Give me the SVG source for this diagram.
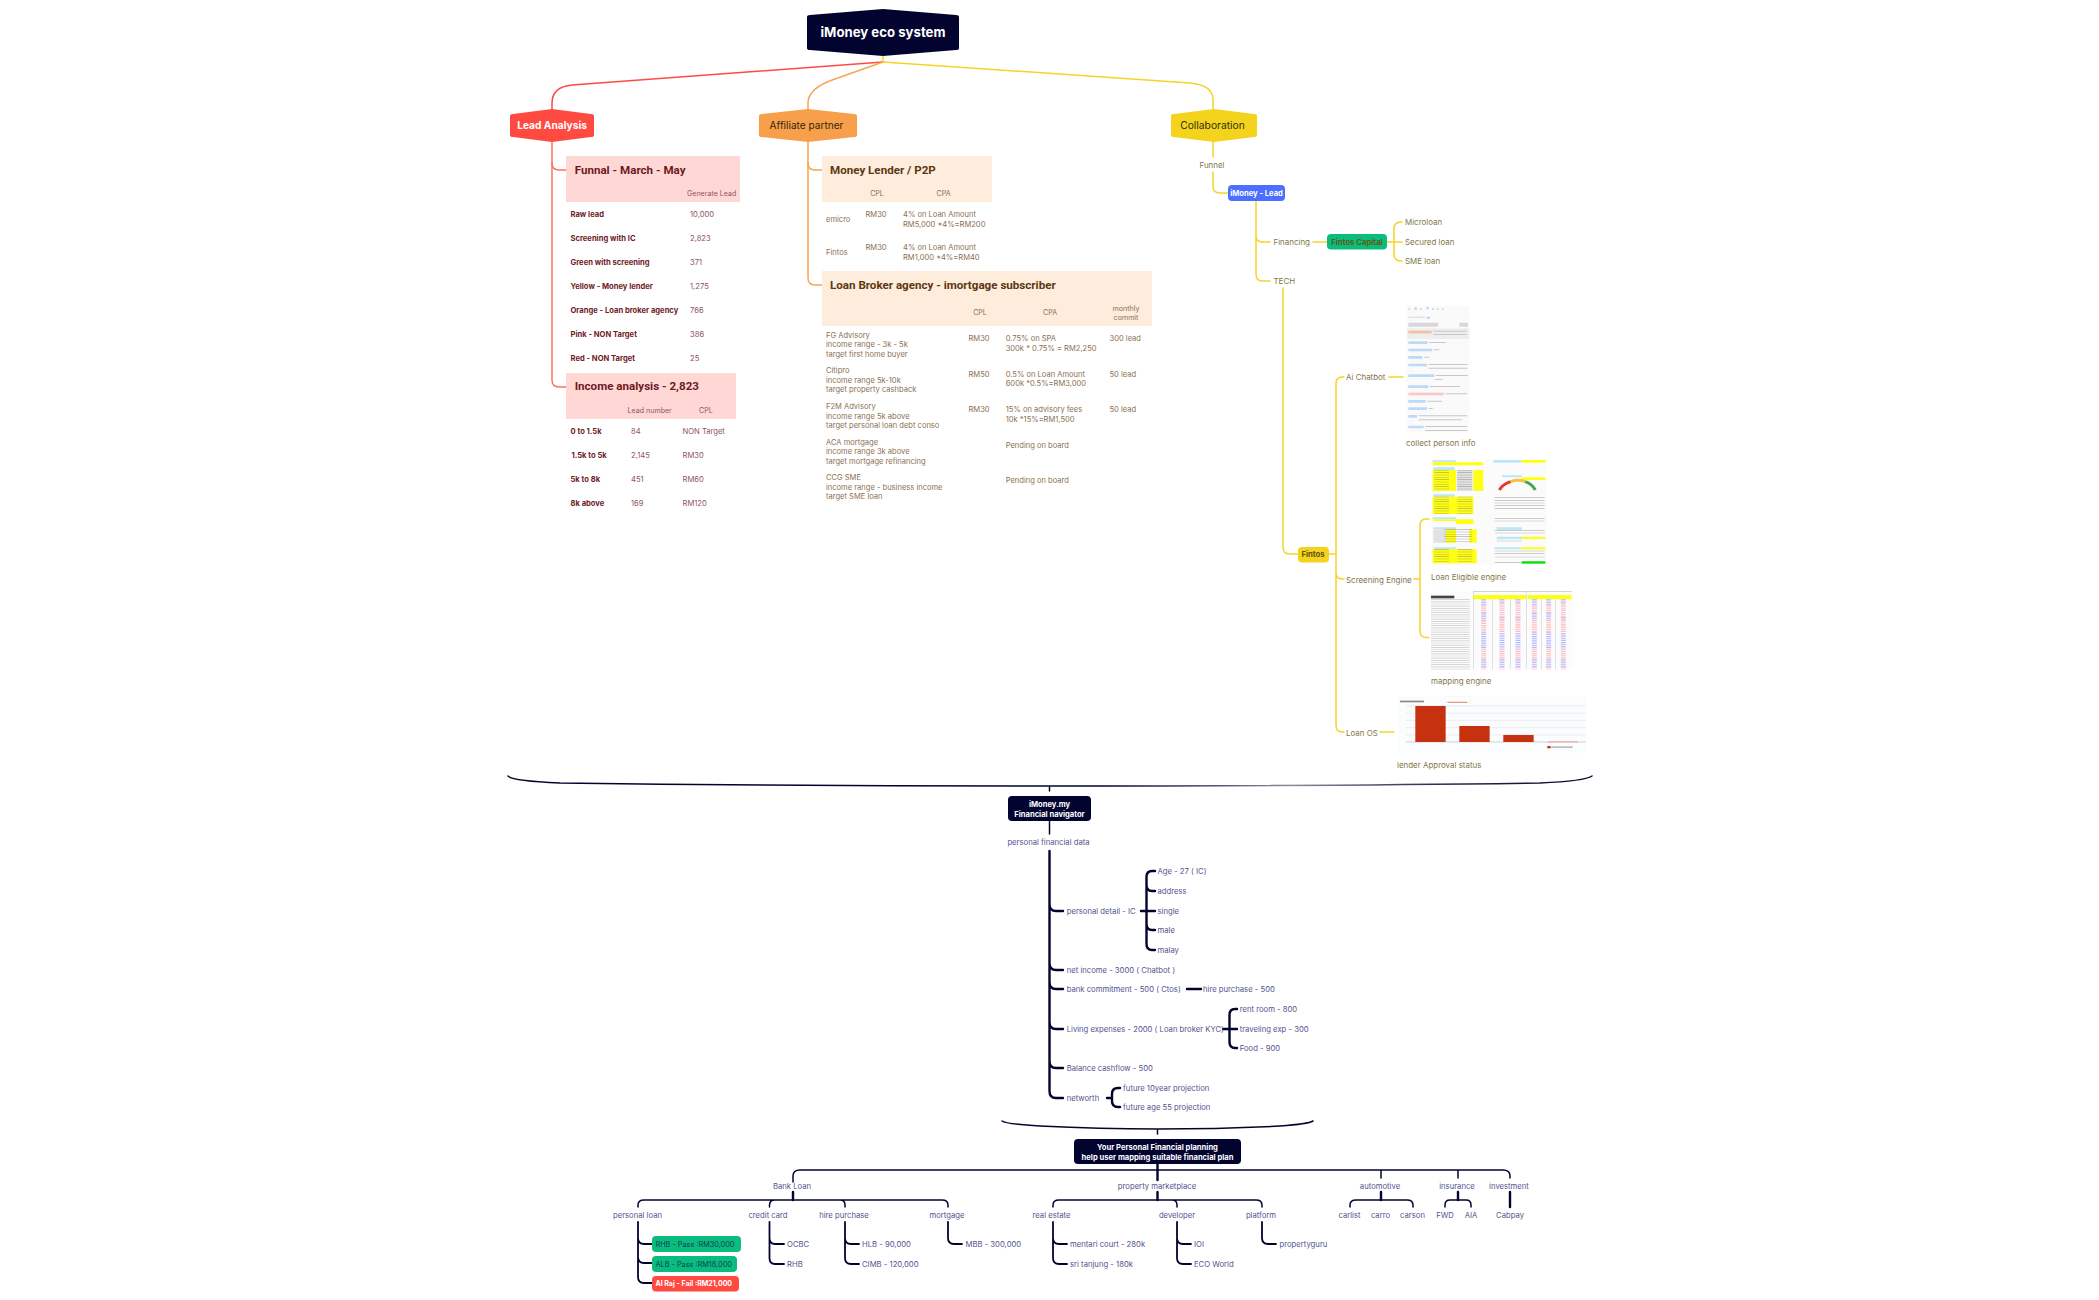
<svg xmlns="http://www.w3.org/2000/svg" width="2099" height="1300" viewBox="0 0 2099 1300">
<defs>
<linearGradient id="brace" x1="0" x2="1" y1="0" y2="0"><stop offset="0" stop-color="#02042f"/><stop offset=".55" stop-color="#02042f"/><stop offset=".72" stop-color="#8a8a98"/><stop offset=".85" stop-color="#30324f"/><stop offset="1" stop-color="#02042f"/></linearGradient>
</defs>
<style>
text{font-family:"Inter","Liberation Sans",sans-serif;font-size:7.7px;dominant-baseline:central}
.m{text-anchor:middle}
.hd{font-family:"Roboto","Liberation Sans",sans-serif;font-weight:700;font-size:11.6px;transform:translateY(-.5px)}
.rb{fill:#6e1a1f;font-weight:700;font-size:7.6px}
.rv{fill:#8f5560;font-size:7.6px}
.ob{fill:#8c7053;font-size:7.55px}
.rt{fill:#6e1a1f}
.ot{fill:#5c3712}
.y{fill:#7f7748;font-size:7.95px}
.n{fill:#53538f}
.wb{fill:#fff;font-weight:700;font-size:7.6px}
.ln{fill:none;stroke-linecap:round;stroke-linejoin:round}
.red{stroke:#ff4a42;stroke-width:1.5}
.red2{stroke:#ff6f68;stroke-width:1.5}
.or{stroke:#f9a54f;stroke-width:1.5}
.ye{stroke:#f5d426;stroke-width:1.5}
.na{stroke:#02042f;stroke-width:1.5}
.na2{stroke:#02042f;stroke-width:2.4}
</style>

<g id="connectors">
<path class="ln ye" d="M883 56V62"/>
<path class="ln red" d="M883 62L572 85Q552 87 552 103V110"/>
<path class="ln or" d="M883 62L835 79Q808 88 808 103V110"/>
<path class="ln ye" d="M883 62L1190 83Q1213 85 1213 100V110"/>
<path class="ln red2" d="M552 142V380Q552 387 559 387H566"/>
<path class="ln red2" d="M552 163Q552 170 559 170H566"/>
<path class="ln or" d="M808 142V278Q808 285 815 285H822"/>
<path class="ln or" d="M808 163Q808 170 815 170H822"/>
<path class="ln ye" d="M1213 142V157M1213 172V186Q1213 193 1220 193H1228"/>
<path class="ln ye" d="M1256 201V274Q1256 281 1262 281H1270M1256 235Q1256 242 1262 242H1270M1313 242H1327M1387 242H1402M1394 229Q1394 222 1401 222H1402M1394 254Q1394 261 1401 261H1402M1394 229V254"/>
<path class="ln ye" d="M1283 288V547Q1283 554 1290 554H1298"/>
<path class="ln ye" d="M1329 554H1336M1336 384Q1336 377 1342 377H1344M1336 384V725Q1336 732 1342 732H1344M1336 572Q1336 579 1342 579H1344M1389 377H1403M1414 579H1420M1420 526Q1420 519 1426 519H1429M1420 526V631Q1420 637.500 1426 637.500H1429M1380 732H1394"/>
<path class="ln" stroke="url(#brace)" stroke-width="1.5" d="M508 776Q512 781 560 783Q800 786 1050 786Q1330 786 1540 783Q1585 781 1592 776"/>
<path class="ln na" d="M1049.500 787V791M1049.500 821V834"/>
<path class="ln na2" d="M1049.500 851V1091Q1049.500 1098 1056 1098H1063M1049.500 904Q1049.500 911 1056 911H1063M1049.500 963Q1049.500 970 1056 970H1063M1049.500 982Q1049.500 989 1056 989H1063M1049.500 1022Q1049.500 1029 1056 1029H1063M1049.500 1061Q1049.500 1068 1056 1068H1063"/>
<path class="ln na2" d="M1141 911H1155M1146.500 877Q1146.500 871 1152 871H1155M1146.500 877V944Q1146.500 950 1152 950H1155M1146.500 885Q1146.500 891 1152 891H1155M1146.500 924Q1146.500 930 1152 930H1155M1187 989H1201M1223 1029H1237M1229.500 1015Q1229.500 1009 1235 1009H1237M1229.500 1015V1042Q1229.500 1048 1235 1048H1237M1107 1098H1112M1112 1094Q1112 1088 1118 1088H1120M1112 1094V1101Q1112 1107 1118 1107H1120"/>
<path class="ln na" stroke-width="1.4" d="M1002 1121Q1006 1124 1040 1126Q1100 1129 1157.500 1129Q1220 1129 1280 1126Q1308 1124 1313 1121M1157.500 1130V1134"/>
<path class="ln na" d="M793 1182V1176Q793 1170 800 1170H1503Q1510 1170 1510 1176V1178M1381 1170Q1381 1172 1381 1178M1458 1170V1178"/>
<path class="ln na2" d="M1157.500 1164V1180M793 1192V1200M1157.500 1192V1200M1381 1192V1200M1458 1192V1200M1510 1192V1207"/>
<path class="ln na" d="M638 1207V1205Q638 1200 644 1200H942Q948 1200 948 1205V1207M769.500 1207V1205Q769.500 1200 775 1200M845 1207V1205Q845 1200 840 1200M1053 1207V1205Q1053 1200 1059 1200H1256Q1262 1200 1262 1205V1207M1177 1207V1205Q1177 1200 1172 1200M1350 1207V1205Q1350 1200 1356 1200H1407Q1413 1200 1413 1205V1207M1445 1207V1205Q1445 1200 1450 1200H1466Q1471 1200 1471 1205V1207"/>
<path class="ln na2" style="stroke-width:1.8" d="M638 1222V1277Q638 1283 644 1283H652M638 1238Q638 1244 644 1244H652M638 1257Q638 1263 644 1263H652M769.500 1222V1258Q769.500 1264 775 1264H784M769.500 1238Q769.500 1244 775 1244H784M845 1222V1258Q845 1264 851 1264H859M845 1238Q845 1244 851 1244H859M948 1222V1238Q948 1244 954 1244H962M1053 1222V1258Q1053 1264 1059 1264H1067M1053 1238Q1053 1244 1059 1244H1067M1177 1222V1258Q1177 1264 1183 1264H1191M1177 1238Q1177 1244 1183 1244H1191M1262 1222V1238Q1262 1244 1268 1244H1276"/>
</g>

<g id="root"><path fill="#02042f" d="M807 17Q807 15 810 15L883 9L956 15Q959 15 959 17V48Q959 50 956 50L883 56L810 50Q807 50 807 48Z"/><text class="m" x="883" y="32" fill="#fff" style="font-size:13.2px;font-weight:700">iMoney eco system</text></g>
<g id="lead-analysis"><path fill="#ff4a42" d="M510 116Q510 114 513 114L552 109L591 114Q594 114 594 116V135Q594 137 591 137L552 142L513 137Q510 137 510 135Z"/><text class="m wb" x="552" y="125" style="font-size:10.2px">Lead Analysis</text></g>
<g id="affiliate-partner"><path fill="#f79f4a" d="M759 116Q759 114 762 114L808 109L854 114Q857 114 857 116V135Q857 137 854 137L808 142L762 137Q759 137 759 135Z"/><text class="m" x="806.500" y="125" fill="#33270c" style="font-size:10.1px">Affiliate partner</text></g>
<g id="collaboration"><path fill="#f4d31c" d="M1171 116Q1171 114 1174 114L1214 109L1254 114Q1257 114 1257 116V135Q1257 137 1254 137L1214 142L1174 137Q1171 137 1171 135Z"/><text class="m" x="1212.500" y="125" fill="#33300c" style="font-size:10.3px">Collaboration</text></g>

<g id="funnel-table">
<rect x="566" y="156" width="174" height="46" fill="#ffd8d6"/>
<text class="hd rt" x="574.700" y="170">Funnal - March - May</text>
<text class="rv" x="687" y="193.500" style="font-size:7.1px">Generate Lead</text>
<text class="rb" x="570.500" y="214.500">Raw lead</text><text class="rv" x="690" y="214.500">10,000</text>
<text class="rb" x="570.500" y="238.500">Screening with IC</text><text class="rv" x="690" y="238.500">2,823</text>
<text class="rb" x="570.500" y="262.500">Green with screening</text><text class="rv" x="690" y="262.500">371</text>
<text class="rb" x="570.500" y="286.500">Yellow - Money lender</text><text class="rv" x="690" y="286.500">1,275</text>
<text class="rb" x="570.500" y="310.500">Orange - Loan broker agency</text><text class="rv" x="690" y="310.500">766</text>
<text class="rb" x="570.500" y="334.500">Pink - NON Target</text><text class="rv" x="690" y="334.500">386</text>
<text class="rb" x="570.500" y="358.500">Red - NON Target</text><text class="rv" x="690" y="358.500">25</text>
</g>
<g id="income-table">
<rect x="566" y="373" width="170" height="46" fill="#ffd8d6"/>
<text class="hd rt" x="574.700" y="386">Income analysis - 2,823</text>
<text class="rv" x="627.500" y="410.500" style="font-size:7.1px">Lead number</text><text class="rv" x="699" y="410.500" style="font-size:7.1px">CPL</text>
<text class="rb" x="570.500" y="431.500">0 to 1.5k</text><text class="rv" x="631" y="431.500">84</text><text class="rv" x="682.500" y="431.500">NON Target</text>
<text class="rb" x="571.500" y="455.500">1.5k to 5k</text><text class="rv" x="631" y="455.500">2,145</text><text class="rv" x="682.500" y="455.500">RM30</text>
<text class="rb" x="570.500" y="479.500">5k to 8k</text><text class="rv" x="631" y="479.500">451</text><text class="rv" x="682.500" y="479.500">RM60</text>
<text class="rb" x="570.500" y="503.500">8k above</text><text class="rv" x="631" y="503.500">169</text><text class="rv" x="682.500" y="503.500">RM120</text>
</g>
<g id="money-lender-table">
<rect x="822" y="156" width="170" height="46" fill="#feecdc"/>
<text class="hd ot" x="830" y="170">Money Lender / P2P</text>
<text class="ob m" x="877" y="193.500" style="font-size:7.1px">CPL</text><text class="ob m" x="943.500" y="193.500" style="font-size:7.1px">CPA</text>
<text class="ob" x="826" y="219.500">emicro</text><text class="ob" x="865.500" y="214.500">RM30</text><text class="ob" x="903" y="214.500">4% on Loan Amount</text><text class="ob" x="903" y="224.500">RM5,000 *4%=RM200</text>
<text class="ob" x="826" y="252.500">Fintos</text><text class="ob" x="865.500" y="247.500">RM30</text><text class="ob" x="903" y="247.500">4% on Loan Amount</text><text class="ob" x="903" y="257.500">RM1,000 *4%=RM40</text>
</g>
<g id="loan-broker-table">
<rect x="822" y="271" width="330" height="55" fill="#feecdc"/>
<text class="hd ot" x="830" y="285">Loan Broker agency - imortgage subscriber</text>
<text class="ob m" x="980" y="312.500" style="font-size:7.1px">CPL</text><text class="ob m" x="1050" y="312.500" style="font-size:7.1px">CPA</text>
<text class="ob m" x="1126" y="308" style="font-size:7.1px">monthly</text><text class="ob m" x="1126" y="317" style="font-size:7.1px">commit</text>
<text class="ob" x="826" y="335">FG Advisory</text><text class="ob" x="826" y="344.500">income range - 3k - 5k</text><text class="ob" x="826" y="354.500">target first home buyer</text>
<text class="ob" x="826" y="370.500">Citipro</text><text class="ob" x="826" y="380">income range 5k-10k</text><text class="ob" x="826" y="389.500">target property cashback</text>
<text class="ob" x="826" y="406">F2M Advisory</text><text class="ob" x="826" y="416">income range 5k above</text><text class="ob" x="826" y="425">target personal loan debt conso</text>
<text class="ob" x="826" y="442">ACA mortgage</text><text class="ob" x="826" y="451.500">income range 3k above</text><text class="ob" x="826" y="461.500">target mortgage refinancing</text>
<text class="ob" x="826" y="477">CCG SME</text><text class="ob" x="826" y="487">income range - business income</text><text class="ob" x="826" y="496">target SME loan</text>
<text class="ob" x="968.500" y="338">RM30</text><text class="ob" x="968.500" y="374.500">RM50</text><text class="ob" x="968.500" y="409.500">RM30</text>
<text class="ob" x="1005.700" y="338">0.75% on SPA</text><text class="ob" x="1005.700" y="348">300k * 0.75% = RM2,250</text>
<text class="ob" x="1005.700" y="374.500">0.5% on Loan Amount</text><text class="ob" x="1005.700" y="383.500">600k *0.5%=RM3,000</text>
<text class="ob" x="1005.700" y="409.500">15% on advisory fees</text><text class="ob" x="1005.700" y="419.500">10k *15%=RM1,500</text>
<text class="ob" x="1005.700" y="445">Pending on board</text><text class="ob" x="1005.700" y="480">Pending on board</text>
<text class="ob" x="1109.500" y="338">300 lead</text><text class="ob" x="1109.500" y="374.500">50 lead</text><text class="ob" x="1109.500" y="409.500">50 lead</text>
</g>

<g id="collab-tree">
<text class="y m" x="1212" y="164.500">Funnel</text>
<g id="imoney-lead"><rect x="1228" y="185" width="57" height="16" rx="4" fill="#4c6fff"/><text class="m wb" x="1256.500" y="193.300">iMoney - Lead</text></g>
<text class="y" x="1273.500" y="242">Financing</text>
<g id="fintos-capital"><rect x="1327" y="234" width="60" height="15.500" rx="4" fill="#0bbd7d"/><text class="m" x="1357" y="242" fill="#5d5b16" style="font-weight:700;font-size:7.7px">Fintos Capital</text></g>
<text class="y" x="1405" y="222">Microloan</text><text class="y" x="1405" y="242">Secured loan</text><text class="y" x="1405" y="261">SME loan</text>
<text class="y" x="1273.500" y="281">TECH</text>
<g id="fintos"><rect x="1298" y="547" width="31" height="15.500" rx="4" fill="#f4d31c"/><text class="m" x="1313" y="554.500" fill="#5d5216" style="font-weight:700;font-size:7.7px">Fintos</text></g>
<text class="y" x="1346" y="377">Ai Chatbot</text><text class="y" x="1346" y="579.500">Screening Engine</text><text class="y" x="1346" y="732.500">Loan OS</text>
<text class="y" x="1406" y="443">collect person info</text>
<text class="y" x="1431" y="576.500">Loan Eligible engine</text>
<text class="y" x="1431" y="680.500">mapping engine</text>
<text class="y" x="1397" y="764.500">lender Approval status</text>
</g>

<g id="img-chatbot" transform="translate(1300 300) scale(.3333)">
<rect x="320" y="18" width="188" height="380" fill="#fafafa"/>
<rect x="322" y="85" width="186" height="32" fill="#eee"/>
<rect x="325" y="92" width="70" height="8" fill="#f6bfa4"/>
<path fill="#bcd9f7" d="M325 124h58v8h-58zM325 146h72v8h-72zM325 168h42v8h-42zM325 191h56v8h-56zM325 223h78v8h-78zM325 256h60v8h-60zM325 300h52v8h-52zM325 322h56v8h-56zM325 345h26v8h-26zM325 377h46v8h-46z"/>
<rect x="325" y="278" width="106" height="8" fill="#f8c9c9"/>
<path fill="#c8c8cc" d="M400 92h100v3h-100zM400 102h100v3h-100zM388 126h50v3h-50zM402 148h16v3h-16zM372 170h16v3h-16zM386 192h116v3h-116zM386 203h116v3h-116zM408 225h96v3h-96zM404 237h24v3h-24zM390 258h90v3h-90zM436 280h66v3h-66zM382 302h44v3h-44zM386 324h12v3h-12zM356 346h146v3h-146zM356 358h130v3h-130zM376 378h126v3h-126zM376 390h126v3h-126z"/>
<path fill="#b8d4f4" d="M344 22h6v8h-6zM380 20h6v8h-6zM380 50h10v6h-10z"/>
<path fill="#d8d8dc" d="M325 25h6v5h-6zM360 25h6v5h-6zM396 25h6v5h-6zM410 25h6v5h-6zM425 25h6v5h-6zM325 50h50v3h-50zM325 68h90v12h-90zM478 68h26v12h-26z"/>
</g>

<g id="img-loan-eligible" transform="translate(1300 300) scale(.3333)">
<rect x="395" y="478" width="345" height="316" fill="#fbfbfb"/>
<path fill="#bfe6f5" d="M398 481h70v6h-70zM400 502h64v8h-64zM400 583h64v7h-64zM398 652h70v6h-70zM400 682h68v6h-68zM400 742h68v6h-68zM580 480h85v8h-85zM606 526h60v6h-60zM590 682h76v8h-76zM590 710h76v8h-76zM584 742h80v6h-80z"/>
<path fill="#ffff14" d="M398 487h152v9h-152zM398 510h70v63h-70zM520 510h30v63h-30zM398 590h122v52h-122zM665 480h71v8h-71zM665 532h71v8h-71zM398 658h70v5h-70zM468 658h52v14h-52zM438 688h30v40h-30zM508 688h22v40h-22zM398 748h120v42h-120zM518 748h12v42h-12zM665 710h71v7h-71zM665 742h71v6h-71z"/>
<rect x="665" y="784" width="71" height="7" fill="#00e000"/>
<path fill="#e2e2e2" d="M470 510h48v63h-48zM400 688h38v40h-38z"/>
<g fill="none" stroke="#77776a" stroke-width="44" stroke-dasharray="1.8 5.200" opacity=".55">
<path d="M425 510V573M494 510V573M425 590V642M495 590V642M425 748V790M495 748V790M455 688V728M494 688V728"/>
</g>
<path fill="#6b6b6b" opacity=".45" d="M584 592h150v2h-150zM584 600h150v2h-150zM584 608h150v2h-150zM584 616h150v2h-150zM584 624h150v2h-150zM584 654h150v2h-150zM584 662h150v2h-150zM584 690h150v2h-150zM584 698h150v2h-150zM590 722h76v2h-76zM584 752h150v2h-150zM584 760h150v2h-150zM584 770h150v2h-150zM584 786h80v2h-80z"/>
<path d="M598 570A58 52 0 0 1 632 545" fill="none" stroke="#e8382c" stroke-width="9"/>
<path d="M632 545A58 52 0 0 1 676 545" fill="none" stroke="#f2c53a" stroke-width="9"/>
<path d="M676 545A58 52 0 0 1 706 570" fill="none" stroke="#4ca24c" stroke-width="9"/>
</g>

<g id="img-mapping" transform="translate(1300 570) scale(.3333)">
<rect x="393" y="63" width="425" height="237" fill="#fcfcfc"/>
<rect x="393" y="77" width="70" height="8" fill="#444"/>
<path fill="#ffff14" d="M520 75h158v13h-158zM683 75h132v13h-132z"/>
<path fill="#a8a8a8" d="M520 64h295v1h-295zM520 65h1v233h-1zM678 65h1v233h-1zM576 88h1v210h-1zM630 88h1v210h-1zM725 88h1v210h-1zM767 88h1v210h-1z"/>
<path d="M451 88V298" fill="none" stroke="#c9c9c9" stroke-width="116" stroke-dasharray="2 4.500"/>
<g fill="none" stroke-width="15" stroke-dasharray="3.500 3" opacity=".85">
<path stroke="#a9adff" d="M551 88V106M551 130V152M551 185V236M551 268V290M606 88V100M606 142V150M606 190V236M606 268V290M654 88V100M654 142V150M654 190V236M654 268V290M703 88V106M703 130V150M703 185V236M703 268V290M746 88V106M746 130V150M746 185V236M746 268V290M790 88V100M790 142V150M790 190V236M790 268V290"/>
<path stroke="#ffb0b4" d="M551 106V130M551 152V185M551 236V268M551 290V298M606 100V142M606 150V190M606 236V268M606 290V298M654 100V142M654 150V190M654 236V268M654 290V298M703 106V130M703 150V185M703 236V268M703 290V298M746 106V130M746 150V185M746 236V268M746 290V298M790 100V142M790 150V190M790 236V268M790 290V298"/>
</g>
</g>

<g id="img-loan-os" transform="translate(1300 570) scale(.3333)">
<rect x="292" y="378" width="566" height="170" fill="#fafcfe"/>
<rect x="438" y="380" width="70" height="26" fill="#fff" stroke="#eee"/>
<rect x="442" y="395" width="60" height="4" fill="#e0a090"/>
<rect x="300" y="392" width="72" height="5" fill="#888"/>
<path fill="none" stroke="#e4e4e6" stroke-width="2" d="M318 408H858M318 430H858M318 451H858M318 473H858M318 495H858"/>
<path fill="none" stroke="#bbb" stroke-width="2" d="M318 516H858"/>
<rect x="346" y="408" width="91" height="108" fill="#c6310f"/>
<rect x="478" y="468" width="91" height="48" fill="#c6310f"/>
<rect x="610" y="495" width="91" height="21" fill="#c6310f"/>
<rect x="743" y="513" width="91" height="5" fill="#e8baae"/>
<rect x="742" y="528" width="10" height="7" fill="#c6310f"/>
<rect x="754" y="529" width="64" height="5" fill="#bbb"/>
</g>

<g id="navigator">
<g id="imoney-my"><rect x="1008" y="796" width="83" height="25" rx="4" fill="#02042f"/><text class="m wb" x="1049.500" y="804.500">iMoney.my</text><text class="m wb" x="1049.500" y="814.500">Financial navigator</text></g>
<text class="n m" x="1048.500" y="842">personal financial data</text>
<text class="n" x="1066.700" y="911">personal detail - IC</text>
<text class="n" x="1157.500" y="871">Age - 27 ( IC)</text><text class="n" x="1157.500" y="891">address</text><text class="n" x="1157.500" y="911">single</text><text class="n" x="1157.500" y="930">male</text><text class="n" x="1157.500" y="950">malay</text>
<text class="n" x="1066.700" y="970">net income - 3000 ( Chatbot )</text>
<text class="n" x="1066.700" y="989.500">bank commitment - 500 ( Ctos)</text><text class="n" x="1203" y="989.500">hire purchase - 500</text>
<text class="n" x="1066.700" y="1029">Living expenses - 2000 ( Loan broker KYC)</text>
<text class="n" x="1239.700" y="1009">rent room - 800</text><text class="n" x="1239.700" y="1029">traveling exp - 300</text><text class="n" x="1239.700" y="1048.500">Food - 900</text>
<text class="n" x="1066.700" y="1068.500">Balance cashflow - 500</text>
<text class="n" x="1066.700" y="1098.500">networth</text>
<text class="n" x="1123" y="1088.500">future 10year projection</text><text class="n" x="1123" y="1107.500">future age 55 projection</text>
</g>
<g id="planning">
<g id="personal-planning"><rect x="1074" y="1139" width="167" height="25" rx="4" fill="#02042f"/><text class="m wb" x="1157.500" y="1147.500">Your Personal Financial planning</text><text class="m wb" x="1157.500" y="1157.500">help user mapping suitable financial plan</text></g>
<text class="n m" x="792" y="1186">Bank Loan</text><text class="n m" x="1157" y="1186">property marketplace</text><text class="n m" x="1380" y="1186">automotive</text><text class="n m" x="1457" y="1186">insurance</text><text class="n m" x="1509" y="1186">investment</text>
<text class="n m" x="637.500" y="1215">personal loan</text><text class="n m" x="768" y="1215">credit card</text><text class="n m" x="844" y="1215">hire purchase</text><text class="n m" x="947" y="1215">mortgage</text>
<text class="n m" x="1051.500" y="1215">real estate</text><text class="n m" x="1177" y="1215">developer</text><text class="n m" x="1261" y="1215">platform</text>
<text class="n m" x="1349.500" y="1215">carlist</text><text class="n m" x="1380.500" y="1215">carro</text><text class="n m" x="1412.500" y="1215">carson</text><text class="n m" x="1445" y="1215">FWD</text><text class="n m" x="1471" y="1215">AIA</text><text class="n m" x="1510" y="1215">Cabpay</text>
<g id="rhb"><rect x="652" y="1236" width="89" height="16" rx="4" fill="#0bbd7d"/><text x="655.500" y="1244" fill="#0b3a5e" style="font-size:7.3px">RHB - Pass :RM30,000</text></g>
<g id="alb"><rect x="652" y="1256" width="85" height="16" rx="4" fill="#0bbd7d"/><text x="655.500" y="1264" fill="#0b3a5e" style="font-size:7.3px">ALB - Pass :RM18,000</text></g>
<g id="alraj"><rect x="652" y="1276" width="87" height="15.500" rx="4" fill="#ff4a42"/><text class="wb" x="655.500" y="1283.500" style="font-size:7px">Al Raj - Fail :RM21,000</text></g>
<text class="n" x="787" y="1244">OCBC</text><text class="n" x="787" y="1264">RHB</text>
<text class="n" x="862" y="1244">HLB - 90,000</text><text class="n" x="862" y="1264">CIMB - 120,000</text>
<text class="n" x="965.500" y="1244">MBB - 300,000</text>
<text class="n" x="1070" y="1244">mentari court - 280k</text><text class="n" x="1070" y="1264">sri tanjung - 180k</text>
<text class="n" x="1194" y="1244">IOI</text><text class="n" x="1194" y="1264">ECO World</text>
<text class="n" x="1279.500" y="1244">propertyguru</text>
</g>
</svg>
